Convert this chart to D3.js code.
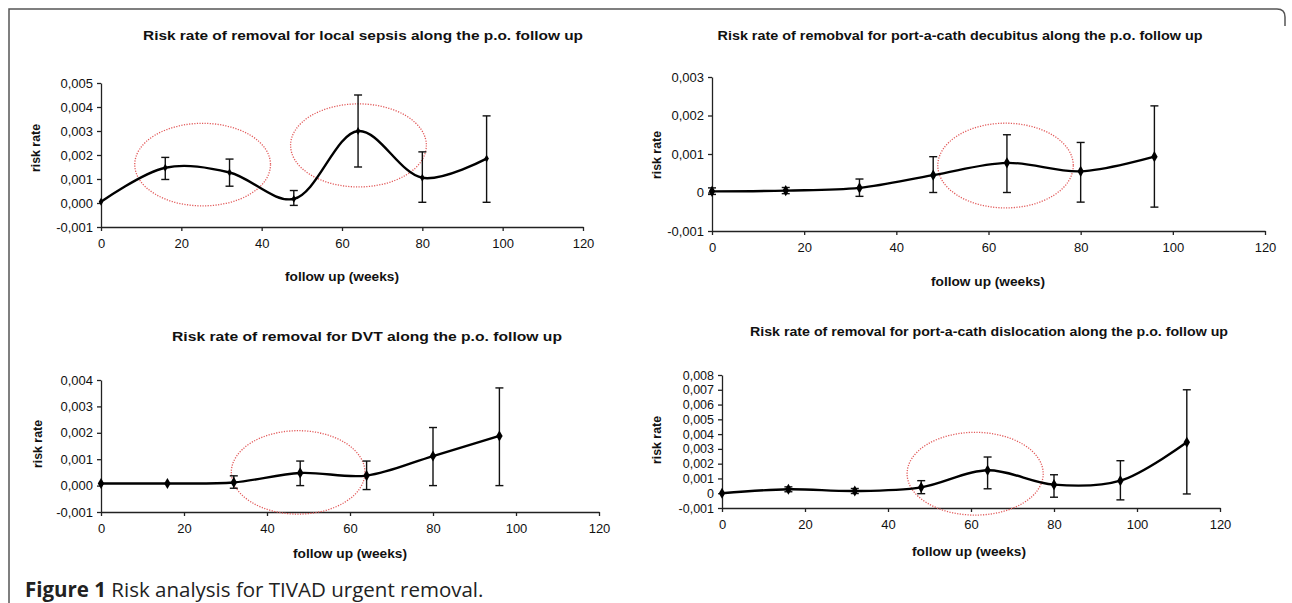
<!DOCTYPE html>
<html>
<head>
<meta charset="utf-8">
<title>Risk analysis for TIVAD urgent removal</title>
<script src="https://cdn.jsdelivr.net/npm/d3@7"></script>
<style>
  body { margin: 0; background: #fff; }
  svg { display: block; }
  .tick text { font-family: 'Liberation Sans', Arial, sans-serif; font-size: 13px; fill: #111; }
  .axis path, .axis line { stroke: #222; stroke-width: 1.3; }
  .ptitle { font-family: 'Liberation Sans', Arial, sans-serif; font-weight: bold; font-size: 13.5px; fill: #111; }
  .atitle { font-family: 'Liberation Sans', Arial, sans-serif; font-weight: bold; font-size: 13px; fill: #111; }
</style>
</head>
<body>
<svg width="1292" height="603"></svg>
<script>
// follow up weeks
const weeks = [0, 16, 32, 48, 64, 80, 96];
const weeksDislocation = [0, 16, 32, 48, 64, 80, 96, 112];
const xTicks = [0, 20, 40, 60, 80, 100, 120];

// local sepsis
const sepsisRate = [0.00005, 0.00147, 0.00127, 0.00017, 0.00300, 0.00105, 0.00185];
const sepsisHigh = [0.00005, 0.00190, 0.00183, 0.00052, 0.00450, 0.00213, 0.00363];
const sepsisLow  = [0.00005, 0.00098, 0.00070, -0.00010, 0.00150, 0.00003, 0.00003];
const sepsisTicks = [-0.001, 0, 0.001, 0.002, 0.003, 0.004, 0.005];
const sepsisTickLabels = ['-0,001', '0,000', '0,001', '0,002', '0,003', '0,004', '0,005'];
const sepsisCircles = [[25.3, 0.0016, 16.9, 0.00172], [64.1, 0.0024, 16.9, 0.00173]];

// port-a-cath decubitus
const decubitusRate = [0.00003, 0.00005, 0.00012, 0.00045, 0.00077, 0.00055, 0.00093];
const decubitusHigh = [0.00012, 0.00013, 0.00035, 0.00093, 0.00150, 0.00130, 0.00225];
const decubitusLow  = [-0.00005, -0.00003, -0.00010, 0.00000, 0.00000, -0.00025, -0.00038];
const decubitusTicks = [-0.001, 0, 0.001, 0.002, 0.003];
const decubitusTickLabels = ['-0,001', '0', '0,001', '0,002', '0,003'];
const decubitusCircles = [[63.7, 0.0007, 14.7, 0.0011]];

// DVT
const dvtRate = [0.00008, 0.00008, 0.00012, 0.00048, 0.00038, 0.00112, 0.00188];
const dvtHigh = [0.00008, 0.00008, 0.00037, 0.00093, 0.00093, 0.00220, 0.00370];
const dvtLow  = [0.00008, 0.00008, -0.00010, 0.00000, -0.00015, 0.00000, 0.00000];
const dvtTicks = [-0.001, 0, 0.001, 0.002, 0.003, 0.004];
const dvtTickLabels = ['-0,001', '0,000', '0,001', '0,002', '0,003', '0,004'];
const dvtCircles = [[47.5, 0.0005, 16.1, 0.00158]];

// port-a-cath dislocation
const dislocationRate = [0.00000, 0.00027, 0.00015, 0.00040, 0.00155, 0.00058, 0.00085, 0.00345];
const dislocationHigh = [0.00000, 0.00043, 0.00032, 0.00085, 0.00245, 0.00125, 0.00220, 0.00700];
const dislocationLow  = [0.00000, 0.00010, -0.00002, -0.00003, 0.00030, -0.00027, -0.00045, -0.00005];
const dislocationTicks = [-0.001, 0, 0.001, 0.002, 0.003, 0.004, 0.005, 0.006, 0.007, 0.008];
const dislocationTickLabels = ['-0,001', '0', '0,001', '0,002', '0,003', '0,004', '0,005', '0,006', '0,007', '0,008'];
const dislocationCircles = [[61.0, 0.00132, 16.4, 0.0028]];

var svg = d3.select('svg');

// figure frame
svg.append('path')
    .attr('d', 'M9,603 V9 H1277 Q1285,9 1285,17 V26')
    .attr('fill', 'none')
    .attr('stroke', '#555')
    .attr('stroke-width', 1.5);

var panels = [
    {title: 'Risk rate of removal for local sepsis along the p.o. follow up', tx: 363, ty: 40, tw: 440,
     x0: 101, x1: 583, y0: 227, y1: 83, xt: 342, xty: 281, yt: 40, yty: 148,
     weeks: weeks, rate: sepsisRate, hi: sepsisHigh, lo: sepsisLow,
     ticks: sepsisTicks, labels: sepsisTickLabels, circles: sepsisCircles, marker: 18,
     tickFont: 13},
    {title: 'Risk rate of remobval for port-a-cath decubitus along the p.o. follow up', tx: 960, ty: 40, tw: 485,
     x0: 712, x1: 1265, y0: 231, y1: 77, xt: 988, xty: 286, yt: 661, yty: 155,
     weeks: weeks, rate: decubitusRate, hi: decubitusHigh, lo: decubitusLow,
     ticks: decubitusTicks, labels: decubitusTickLabels, circles: decubitusCircles, marker: 36,
     tickFont: 13},
    {title: 'Risk rate of removal for DVT along the p.o. follow up', tx: 367, ty: 341, tw: 390,
     x0: 101, x1: 599, y0: 512, y1: 380, xt: 350, xty: 558, yt: 42, yty: 444,
     weeks: weeks, rate: dvtRate, hi: dvtHigh, lo: dvtLow,
     ticks: dvtTicks, labels: dvtTickLabels, circles: dvtCircles, marker: 36,
     tickFont: 13},
    {title: 'Risk rate of removal for port-a-cath dislocation along the p.o. follow up', tx: 989, ty: 336, tw: 478,
     x0: 722, x1: 1220, y0: 508, y1: 375, xt: 969, xty: 556, yt: 661, yty: 440,
     weeks: weeksDislocation, rate: dislocationRate, hi: dislocationHigh, lo: dislocationLow,
     ticks: dislocationTicks, labels: dislocationTickLabels, circles: dislocationCircles, marker: 36,
     tickFont: 12.5}
];

panels.forEach(drawPanel);

function drawPanel(p) {
    var g = svg.append('g');

    var x = d3.scaleLinear().domain([0, 120]).range([p.x0, p.x1]);
    var y = d3.scaleLinear()
        .domain([p.ticks[0], p.ticks[p.ticks.length - 1]])
        .range([p.y0, p.y1]);

    g.append('g')
        .attr('class', 'axis')
        .attr('transform', 'translate(0,' + p.y0 + ')')
        .call(d3.axisBottom(x).tickValues(xTicks).tickSize(4).tickSizeOuter(0).tickPadding(8));

    var yAxis = g.append('g')
        .attr('class', 'axis')
        .attr('transform', 'translate(' + p.x0 + ',0)')
        .call(d3.axisLeft(y).tickValues(p.ticks).tickSize(4).tickSizeOuter(0).tickPadding(4)
            .tickFormat(function(d, i) { return p.labels[i]; }));

    g.selectAll('.axis').attr('font-family', null).attr('font-size', null);
    yAxis.selectAll('text').style('font-size', p.tickFont + 'px');

    // highlighted windows
    g.selectAll('.hl')
        .data(p.circles)
    .enter().append('ellipse')
        .attr('cx', function(d) { return x(d[0]); })
        .attr('cy', function(d) { return y(d[1]); })
        .attr('rx', function(d) { return x(d[0] + d[2]) - x(d[0]); })
        .attr('ry', function(d) { return y(d[1] - d[3]) - y(d[1]); })
        .attr('fill', 'none')
        .attr('stroke', '#e25b5b')
        .attr('stroke-width', 1.3)
        .attr('stroke-dasharray', '1.2,1.4');

    var pts = p.weeks.map(function(w, i) {
        return {w: w, r: p.rate[i], hi: p.hi[i], lo: p.lo[i]};
    });

    var line = d3.line()
        .curve(d3.curveCatmullRom.alpha(0.5))
        .x(function(d) { return x(d.w); })
        .y(function(d) { return y(d.r); });

    g.append('path')
        .attr('d', line(pts))
        .attr('fill', 'none')
        .attr('stroke', '#000')
        .attr('stroke-width', 2.4);

    // error bars
    var bars = g.selectAll('.err')
        .data(pts.filter(function(d) { return d.hi !== d.lo; }))
    .enter().append('g');

    bars.append('line')
        .attr('x1', function(d) { return x(d.w); })
        .attr('x2', function(d) { return x(d.w); })
        .attr('y1', function(d) { return y(d.hi); })
        .attr('y2', function(d) { return y(d.lo); });

    bars.append('line')
        .attr('x1', function(d) { return x(d.w) - 4; })
        .attr('x2', function(d) { return x(d.w) + 4; })
        .attr('y1', function(d) { return y(d.hi); })
        .attr('y2', function(d) { return y(d.hi); });

    bars.append('line')
        .attr('x1', function(d) { return x(d.w) - 4; })
        .attr('x2', function(d) { return x(d.w) + 4; })
        .attr('y1', function(d) { return y(d.lo); })
        .attr('y2', function(d) { return y(d.lo); });

    bars.selectAll('line').attr('stroke', '#111').attr('stroke-width', 1.4);

    g.selectAll('.pt')
        .data(pts)
    .enter().append('path')
        .attr('transform', function(d) { return 'translate(' + x(d.w) + ',' + y(d.r) + ')'; })
        .attr('d', d3.symbol().type(d3.symbolDiamond).size(p.marker))
        .attr('fill', '#000');

    g.append('text')
        .attr('class', 'ptitle')
        .attr('x', p.tx)
        .attr('y', p.ty)
        .attr('text-anchor', 'middle')
        .attr('textLength', p.tw)
        .attr('lengthAdjust', 'spacingAndGlyphs')
        .text(p.title);

    g.append('text')
        .attr('class', 'atitle')
        .attr('x', p.xt)
        .attr('y', p.xty)
        .attr('text-anchor', 'middle')
        .attr('textLength', 114)
        .attr('lengthAdjust', 'spacingAndGlyphs')
        .text('follow up (weeks)');

    g.append('text')
        .attr('class', 'atitle')
        .attr('transform', 'translate(' + p.yt + ',' + p.yty + ') rotate(-90)')
        .attr('text-anchor', 'middle')
        .attr('textLength', 48)
        .attr('lengthAdjust', 'spacingAndGlyphs')
        .text('risk rate');
}

// caption
var cap = svg.append('text')
    .attr('x', 25)
    .attr('y', 597)
    .attr('font-family', "'Open Sans', 'Noto Sans', sans-serif")
    .attr('font-size', 20.5)
    .attr('fill', '#222');
cap.append('tspan').attr('font-weight', 'bold').text('Figure 1');
cap.append('tspan').text(' Risk analysis for TIVAD urgent removal.');
</script>
</body>
</html>
